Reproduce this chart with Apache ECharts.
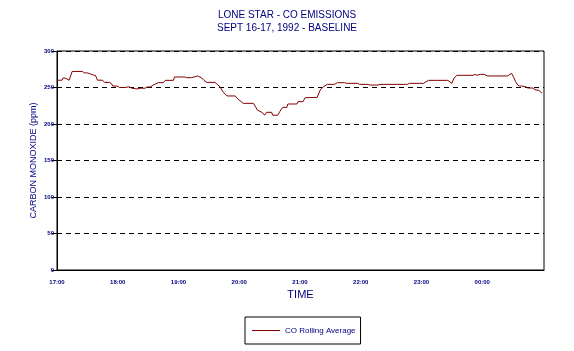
<!DOCTYPE html>
<html>
<head>
<meta charset="utf-8">
<script src="https://cdn.jsdelivr.net/npm/echarts@6/dist/echarts.min.js"></script>
<style>html,body{margin:0;padding:0;background:#fff}#c{width:574px;height:351px}</style>
</head>
<body>
<div id="c"></div>
<script>
// minutes after 17:00
var minutes = [0,5,6,8,9,12,13,15,25,27,30,33,36,38,39,40,45,47,52,54,55,59,62,67,68,71,74,79,82,87,89,92,95,100,105,107,115,116,126,128,133,134,139,143,145,148,156,161,164,168,176,179,184,194,198,203,205,207,212,213,218,220,223,227,228,237,238,243,245,257,258,260,263,267,274,277,284,286,297,299,307,309,317,319,344,345,346,348,362,364,367,386,390,392,395,411,413,415,418,422,425,445,449,451,453,455,457,459,460,463,465,470,472,476,479];
var coValues = [260,260,263,263,261,260,261,272,272,270,270,268.5,267,266.5,264,260,260,257,257,255,252,252,250,250,248.5,251,249,248,249,249,250.7,250.7,253.4,256.6,256.6,259.8,259.8,264.4,264.4,263.5,263.5,265.8,265.8,263,260,257,257,251,244,238.4,238.4,233.8,228.3,228.3,219,215.5,212,216,216,212,212,217,222.8,222.8,227.4,227.4,230.6,230.6,236,236.5,238.4,246.6,251,254.3,254.3,256.6,256.6,255.7,255.7,254.3,254.3,253.4,253.4,254.3,254.3,255.7,254.3,255.7,255.7,257.5,259.8,259.8,255.7,262.6,266.7,266.7,268,266.7,268,268,265.8,265.8,269.4,264,258,253.4,252,252,253,251,249.3,249.3,247,246,242];
var hourLabels = ['17:00','18:00','19:00','20:00','21:00','22:00','23:00','00:00'];
var yTicks = [0,50,100,150,200,250,300];

var pts = minutes.map(function(m,i){return [m, coValues[i]];});
var navy = '#000080';
var ff = 'Liberation Sans, Arial, sans-serif';
var chart = echarts.init(document.getElementById('c'), null, {renderer:'canvas'});
chart.setOption({
  animation:false,
  backgroundColor:'#fff',
  title:{
    text:'LONE STAR - CO EMISSIONS\nSEPT 16-17, 1992 - BASELINE',
    left:'center', top:4,
    textStyle:{fontFamily:ff, fontSize:10, fontWeight:'normal', color:navy, lineHeight:13}
  },
  legend:{
    left:245, top:317,
    data:[{name:'CO Rolling Average', icon:'rect'}],
    borderColor:'#000', borderWidth:1,
    padding:[8,5,8,7],
    itemWidth:28, itemHeight:1,
    itemStyle:{color:'#800000', borderWidth:0},
    textStyle:{fontFamily:ff, fontSize:8, color:navy, lineHeight:11}
  },
  grid:{left:57, right:30, top:51, bottom:81, show:true, borderColor:'#000', borderWidth:1},
  xAxis:{
    type:'value', min:0, max:481, interval:60,
    name:'TIME', nameLocation:'middle', nameGap:15,
    nameTextStyle:{fontFamily:ff, fontSize:11, color:navy},
    axisLine:{lineStyle:{color:'#000', width:1}},
    axisTick:{show:false},
    splitLine:{show:false},
    axisLabel:{
      margin:9, fontSize:6, fontWeight:'bold', color:navy, showMaxLabel:false, fontFamily:ff,
      formatter:function(v){var i=Math.round(v/60); return (v%60===0 && i<hourLabels.length)?hourLabels[i]:'';}
    }
  },
  yAxis:{
    type:'value', min:0, max:300, interval:50,
    name:'CARBON MONOXIDE (ppm)', nameLocation:'middle', nameGap:19, nameMoveOverlap:false,
    nameTextStyle:{fontFamily:ff, fontSize:9, color:navy},
    axisLine:{show:true, lineStyle:{color:'#000', width:1}},
    axisTick:{show:true, length:5, lineStyle:{color:'#000'}},
    splitLine:{show:true, lineStyle:{color:'#000', type:[5,4], width:1}},
    axisLabel:{margin:3, fontSize:6, fontWeight:'bold', color:navy, fontFamily:ff,
      formatter:function(v){return yTicks.indexOf(v)>=0?String(v):'';}}
  },
  series:[{
    name:'CO Rolling Average', type:'line', data:pts,
    symbol:'none', showSymbol:false,
    lineStyle:{color:'#800000', width:1},
    itemStyle:{color:'#800000'}
  }]
});
</script>
</body>
</html>
